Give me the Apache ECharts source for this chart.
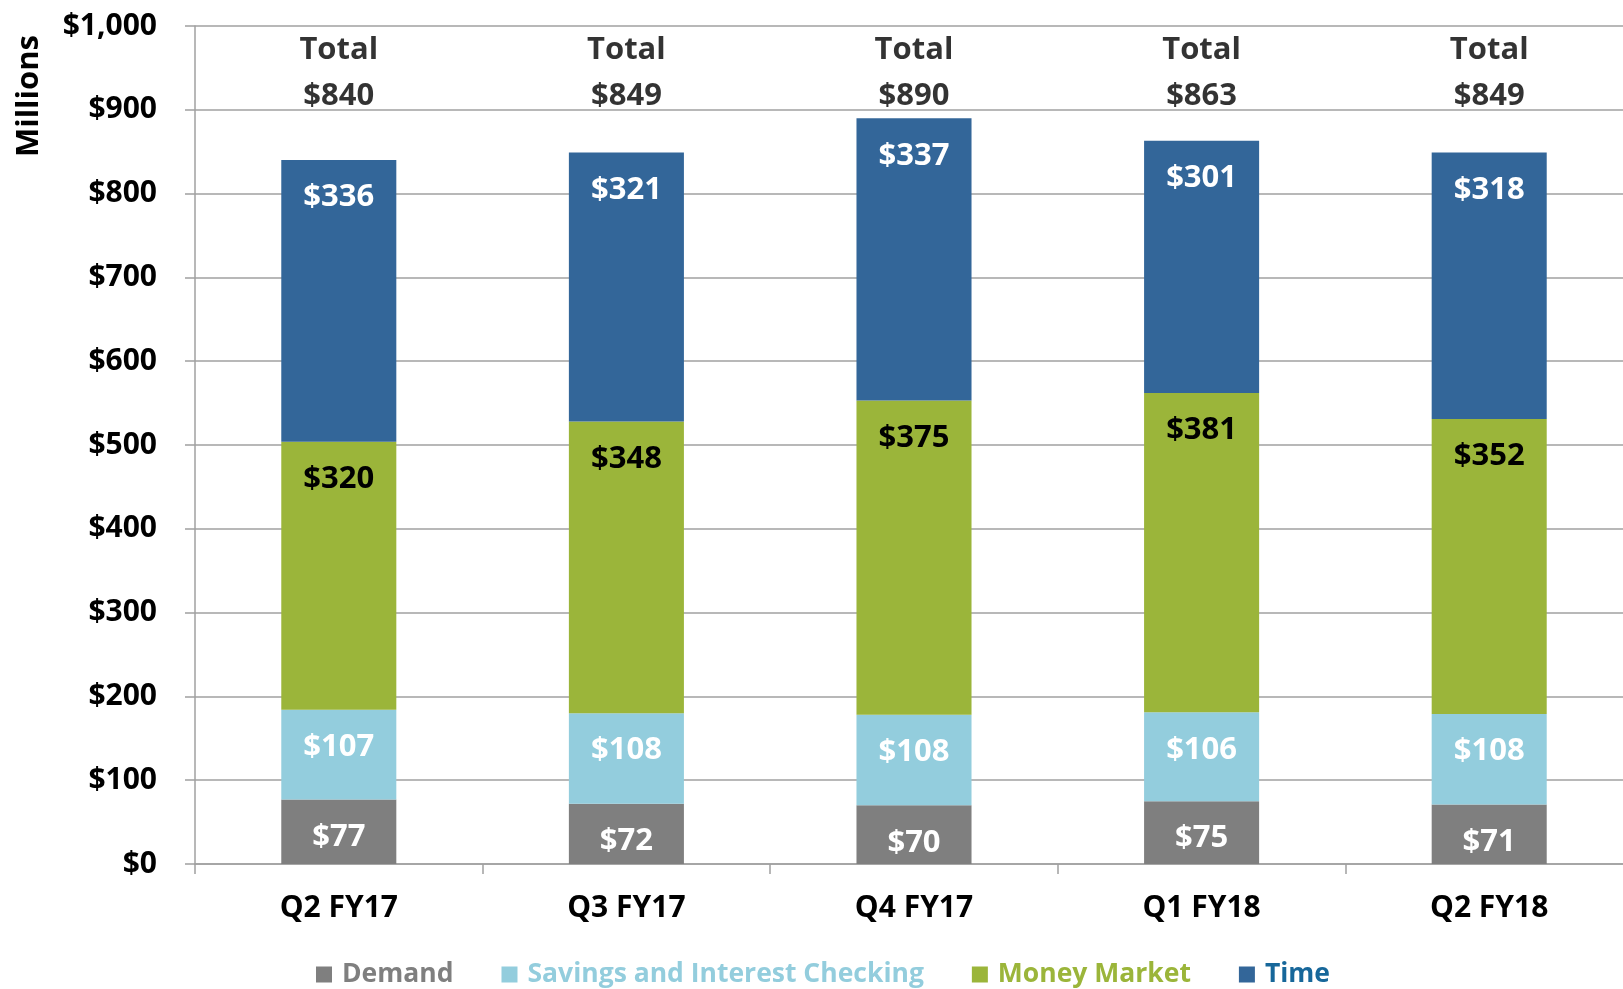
<!DOCTYPE html>
<html>
<head>
<meta charset="utf-8">
<script src="https://cdn.jsdelivr.net/npm/echarts@6/dist/echarts.min.js"></script>
<style>
  html, body { margin: 0; padding: 0; background: #fff; }
  #chart { width: 1623px; height: 989px; }
</style>
</head>
<body>
<div id="chart"></div>
<script>
const categories = ['Q2 FY17', 'Q3 FY17', 'Q4 FY17', 'Q1 FY18', 'Q2 FY18']
const demand = [77, 72, 70, 75, 71]
const savings = [107, 108, 108, 106, 108]
const moneyMarket = [320, 348, 375, 381, 352]
const time = [336, 321, 337, 301, 318]
const yTicks = [0, 100, 200, 300, 400, 500, 600, 700, 800, 900, 1000]

const FONT = '"Open Sans", "Noto Sans", sans-serif'
const totals = categories.map((c, i) => demand[i] + savings[i] + moneyMarket[i] + time[i])
// level (in axis units) where the "Total" captions sit
const totalLevel = 944

const money = v => '$' + v.toLocaleString('en-US')

const segment = (name, data, color, labelColor) => ({
    name,
    type: 'bar',
    stack: 'deposits',
    data,
    barWidth: '40%',
    itemStyle: { color },
    label: {
        show: true,
        position: 'insideTop',
        distance: 22,
        color: labelColor,
        fontFamily: FONT,
        fontWeight: 'bold',
        fontSize: 31,
        formatter: p => money(p.value)
    },
    emphasis: { disabled: true }
})

const chart = echarts.init(document.getElementById('chart'))

chart.setOption({
    animation: false,
    grid: { left: 195, width: 1438, top: 26, bottom: 125, outerBoundsMode: 'none', containLabel: false },
    graphic: [{
        type: 'text',
        left: 14,
        top: 35,
        rotation: Math.PI / 2,
        style: {
            text: 'Millions',
            font: 'bold 31px ' + FONT,
            fill: '#000'
        }
    }],
    legend: {
        left: 316,
        top: 961,
        padding: 0,
        itemWidth: 16,
        itemHeight: 16,
        itemGap: 48,
        icon: 'rect',
        textStyle: { fontFamily: FONT, fontWeight: 'bold', fontSize: 26.5, padding: [0, 0, 0, 5] },
        data: [
            { name: 'Demand', textStyle: { color: '#7f7f7f' } },
            { name: 'Savings and Interest Checking', textStyle: { color: '#93cddd' } },
            { name: 'Money Market', textStyle: { color: '#9bb53a' } },
            { name: 'Time', textStyle: { color: '#17679a' } }
        ]
    },
    xAxis: {
        type: 'category',
        data: categories,
        axisLine: { lineStyle: { color: '#a0a0a0', width: 1.5 } },
        axisTick: { show: true, length: 10, lineStyle: { color: '#a0a0a0', width: 1.5 } },
        axisLabel: {
            margin: 29,
            color: '#000',
            fontFamily: FONT,
            fontWeight: 'bold',
            fontSize: 30
        }
    },
    yAxis: {
        type: 'value',
        min: yTicks[0],
        max: yTicks[yTicks.length - 1],
        interval: yTicks[1] - yTicks[0],
        axisLine: { show: true, lineStyle: { color: '#a0a0a0', width: 1.5 } },
        axisTick: { show: true, length: 10, lineStyle: { color: '#a0a0a0', width: 1.5 } },
        splitLine: { lineStyle: { color: '#a0a0a0', width: 1.5 } },
        axisLabel: {
            margin: 38,
            color: '#000',
            fontFamily: FONT,
            fontWeight: 'bold',
            fontSize: 30,
            formatter: v => money(v)
        }
    },
    series: [
        segment('Demand', demand, '#7f7f7f', '#fff'),
        segment('Savings and Interest Checking', savings, '#93cddd', '#fff'),
        segment('Money Market', moneyMarket, '#9bb53a', '#000'),
        segment('Time', time, '#336699', '#fff'),
        {
            name: 'Total',
            type: 'scatter',
            symbolSize: 0,
            data: categories.map((c, i) => [c, totalLevel, totals[i]]),
            label: {
                show: true,
                position: 'inside',
                color: '#000',
                fontFamily: FONT,
                fontWeight: 'bold',
                fontSize: 31,
                lineHeight: 46,
                formatter: p => 'Total\n' + money(p.value[2])
            },
            emphasis: { disabled: true },
            z: 5
        }
    ]
})
</script>
</body>
</html>
